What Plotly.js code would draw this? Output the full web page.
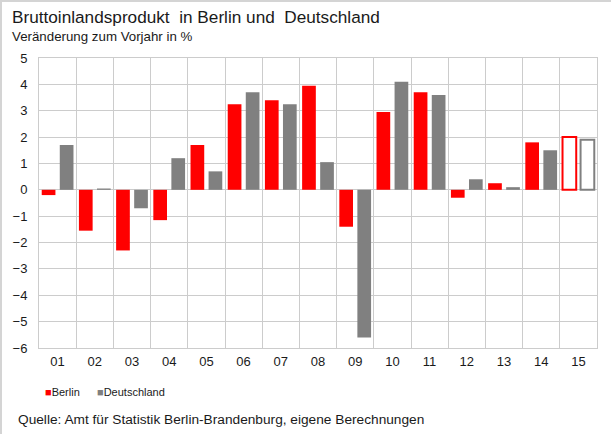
<!DOCTYPE html>
<html>
<head>
<meta charset="utf-8">
<script src="https://cdn.plot.ly/plotly-3.0.1.min.js"></script>
<style>
  html, body { margin: 0; padding: 0; background: #fff; }
  #chart { width: 611px; height: 434px; }
  #frame { position: absolute; left: 0; top: 0; width: 611px; height: 434px;
           border-left: 2px solid #d4d4d4; border-top: 2px solid #d4d4d4;
           box-sizing: border-box; pointer-events: none; }
</style>
</head>
<body>
<div id="chart"></div>
<div id="frame"></div>
<script>
// Jahre (Kurzform) und Veränderung zum Vorjahr in %
const years = ['01', '02', '03', '04', '05', '06', '07', '08', '09', '10', '11', '12', '13', '14', '15'];
const berlin = [-0.2, -1.55, -2.3, -1.15, 1.7, 3.25, 3.4, 3.95, -1.4, 2.95, 3.7, -0.3, 0.25, 1.8, 2.0];
const deutschland = [1.7, 0.05, -0.7, 1.2, 0.7, 3.7, 3.25, 1.05, -5.6, 4.1, 3.6, 0.4, 0.1, 1.5, 1.9];
// 2015 = Prognose (nur Umriss)
const forecast = years.map(y => y === '15');

const RED = '#ff0000';
const GREY = '#808080';
const FONT = 'Liberation Sans, Arial, sans-serif';

function barTrace(name, values, color) {
    return {
        type: 'bar',
        name,
        x: years,
        y: values,
        marker: {
            color: forecast.map(f => f ? '#ffffff' : color),
            line: { color, width: forecast.map(f => f ? 2 : 0) },
        },
        showlegend: false,
        hoverinfo: 'x+y',
    };
}

const traces = [
    barTrace('Berlin', berlin, RED),
    barTrace('Deutschland', deutschland, GREY),
];

const annotations = [
    { text: 'Bruttoinlandsprodukt  in Berlin und  Deutschland', x: 10, y: 17, size: 17.2 },
    { text: 'Veränderung zum Vorjahr in %', x: 10, y: 36, size: 13.3 },
    { text: 'Quelle: Amt für Statistik Berlin-Brandenburg, eigene Berechnungen', x: 16, y: 419, size: 13.7 },
    { text: '<span style="color:' + RED + '">■</span>Berlin', x: 43, y: 392, size: 11 },
    { text: '<span style="color:' + GREY + '">■</span>Deutschland', x: 95, y: 392, size: 11 },
].map(a => ({
    text: a.text,
    xref: 'paper', yref: 'paper',
    x: (a.x - 39) / (597 - 39),
    y: 1 - (a.y - 58) / (348 - 58),
    xanchor: 'left', yanchor: 'middle',
    showarrow: false,
    font: { family: FONT, size: a.size, color: '#1a1a1a' },
}));

const layout = {
    width: 611,
    height: 434,
    paper_bgcolor: '#ffffff',
    plot_bgcolor: '#ffffff',
    font: { family: FONT, size: 13, color: '#1a1a1a' },
    margin: { l: 39, r: 14, t: 58, b: 86 },
    barmode: 'group',
    bargap: 0.03,
    bargroupgap: 0.24,
    xaxis: {
        type: 'category',
        tickson: 'boundaries',
        ticks: '',
        showgrid: true,
        gridcolor: '#cccccc',
        gridwidth: 1,
        showline: true,
        linecolor: '#cccccc',
        mirror: true,
        ticklabelstandoff: 1,
        tickfont: { family: FONT, size: 13, color: '#1a1a1a' },
    },
    yaxis: {
        range: [-6, 5],
        dtick: 1,
        ticks: '',
        showgrid: true,
        gridcolor: '#cccccc',
        gridwidth: 1,
        zeroline: true,
        zerolinecolor: '#cccccc',
        zerolinewidth: 1,
        showline: true,
        linecolor: '#cccccc',
        mirror: true,
        ticklabelstandoff: 8,
        tickfont: { family: FONT, size: 13, color: '#1a1a1a' },
    },
    annotations,
};

Plotly.newPlot('chart', traces, layout, { displayModeBar: false, staticPlot: true });
</script>
</body>
</html>
